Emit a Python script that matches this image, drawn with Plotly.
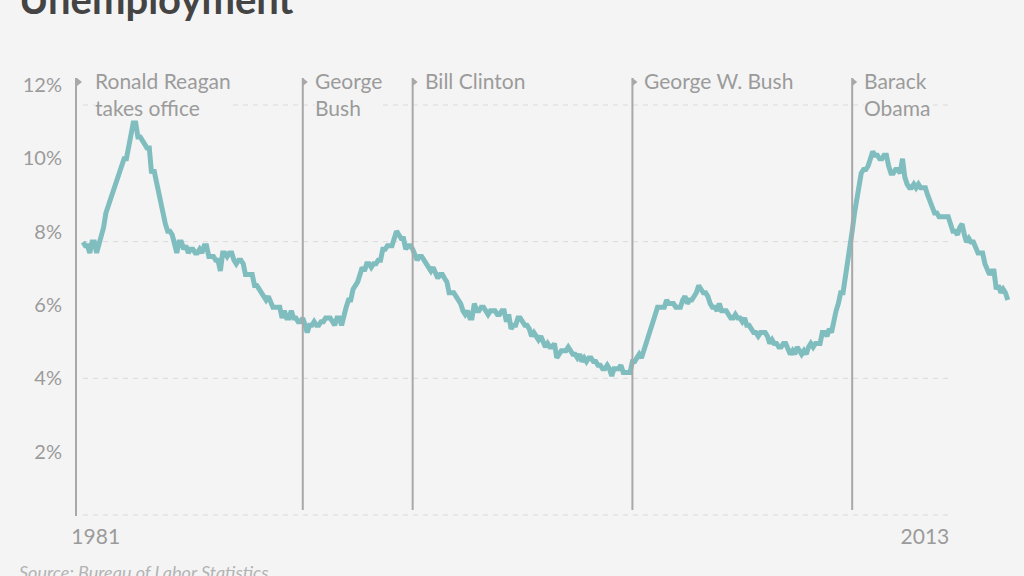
import pandas as pd
import plotly.graph_objects as go

# ---------------- data ----------------
start_month = "1981-01"
# monthly unemployment rate (%), Jan 1981 - Sep 2014, one row per year
unemployment_rate = [
    7.5, 7.4, 7.4, 7.2, 7.5, 7.5, 7.2, 7.4, 7.6, 7.9, 8.3, 8.5,      # 1981
    8.6, 8.9, 9.0, 9.3, 9.4, 9.6, 9.8, 9.8, 10.1, 10.4, 10.8, 10.8,  # 1982
    10.4, 10.4, 10.3, 10.2, 10.1, 10.1, 9.4, 9.5, 9.2, 8.8, 8.5, 8.3, # 1983
    8.0, 7.8, 7.8, 7.7, 7.4, 7.2, 7.5, 7.5, 7.3, 7.4, 7.2, 7.3,      # 1984
    7.3, 7.2, 7.2, 7.3, 7.2, 7.4, 7.4, 7.1, 7.1, 7.1, 7.0, 7.0,      # 1985
    6.7, 7.2, 7.2, 7.1, 7.2, 7.2, 7.0, 6.9, 7.0, 7.0, 6.9, 6.6,      # 1986
    6.6, 6.6, 6.6, 6.3, 6.3, 6.2, 6.1, 6.0, 5.9, 6.0, 5.8, 5.7,      # 1987
    5.7, 5.7, 5.7, 5.4, 5.6, 5.4, 5.4, 5.6, 5.4, 5.4, 5.3, 5.3,      # 1988
    5.4, 5.2, 5.0, 5.2, 5.2, 5.3, 5.2, 5.2, 5.3, 5.3, 5.4, 5.4,      # 1989
    5.4, 5.3, 5.2, 5.4, 5.4, 5.2, 5.5, 5.7, 5.9, 5.9, 6.2, 6.3,      # 1990
    6.4, 6.6, 6.8, 6.7, 6.9, 6.9, 6.8, 6.9, 6.9, 7.0, 7.0, 7.3,      # 1991
    7.3, 7.4, 7.4, 7.4, 7.6, 7.8, 7.7, 7.6, 7.6, 7.3, 7.4, 7.4,      # 1992
    7.3, 7.1, 7.0, 7.1, 7.1, 7.0, 6.9, 6.8, 6.7, 6.8, 6.6, 6.5,      # 1993
    6.6, 6.6, 6.5, 6.4, 6.1, 6.1, 6.1, 6.0, 5.9, 5.8, 5.6, 5.5,      # 1994
    5.6, 5.4, 5.4, 5.8, 5.6, 5.6, 5.7, 5.7, 5.6, 5.5, 5.6, 5.6,      # 1995
    5.6, 5.5, 5.5, 5.6, 5.6, 5.3, 5.5, 5.1, 5.2, 5.2, 5.4, 5.4,      # 1996
    5.3, 5.2, 5.2, 5.1, 4.9, 5.0, 4.9, 4.8, 4.9, 4.7, 4.6, 4.7,      # 1997
    4.6, 4.6, 4.7, 4.3, 4.4, 4.5, 4.5, 4.5, 4.6, 4.5, 4.4, 4.4,      # 1998
    4.3, 4.4, 4.2, 4.3, 4.2, 4.3, 4.3, 4.2, 4.2, 4.1, 4.1, 4.0,      # 1999
    4.0, 4.1, 4.0, 3.8, 4.0, 4.0, 4.0, 4.1, 3.9, 3.9, 3.9, 3.9,      # 2000
    4.2, 4.2, 4.3, 4.4, 4.3, 4.5, 4.6, 4.9, 5.0, 5.3, 5.5, 5.7,      # 2001
    5.7, 5.7, 5.7, 5.9, 5.8, 5.8, 5.8, 5.7, 5.7, 5.7, 5.9, 6.0,      # 2002
    5.8, 5.9, 5.9, 6.0, 6.1, 6.3, 6.2, 6.1, 6.1, 6.0, 5.8, 5.7,      # 2003
    5.7, 5.6, 5.8, 5.6, 5.6, 5.6, 5.5, 5.4, 5.4, 5.5, 5.4, 5.4,      # 2004
    5.3, 5.4, 5.2, 5.2, 5.1, 5.0, 5.0, 4.9, 5.0, 5.0, 5.0, 4.9,      # 2005
    4.7, 4.8, 4.7, 4.7, 4.6, 4.6, 4.7, 4.7, 4.5, 4.4, 4.5, 4.4,      # 2006
    4.6, 4.5, 4.4, 4.5, 4.4, 4.6, 4.7, 4.6, 4.7, 4.7, 4.7, 5.0,      # 2007
    5.0, 4.9, 5.1, 5.0, 5.4, 5.6, 5.8, 6.1, 6.1, 6.5, 6.8, 7.3,      # 2008
    7.8, 8.3, 8.7, 9.0, 9.4, 9.5, 9.5, 9.6, 9.8, 10.0, 9.9, 9.9,     # 2009
    9.8, 9.8, 9.9, 9.9, 9.6, 9.4, 9.4, 9.5, 9.5, 9.4, 9.8, 9.3,      # 2010
    9.1, 9.0, 9.0, 9.1, 9.0, 9.1, 9.0, 9.0, 9.0, 8.8, 8.6, 8.5,      # 2011
    8.3, 8.3, 8.2, 8.2, 8.2, 8.2, 8.2, 8.0, 7.8, 7.8, 7.7, 7.9,      # 2012
    8.0, 7.7, 7.5, 7.6, 7.5, 7.5, 7.3, 7.2, 7.2, 7.2, 6.9, 6.7,      # 2013
    6.6, 6.7, 6.7, 6.2, 6.3, 6.1, 6.2, 6.1, 5.9,                     # 2014
]
months = pd.date_range(start_month, periods=len(unemployment_rate), freq="MS")

president_labels = ["Ronald Reagan<br>takes office", "George<br>Bush", "Bill Clinton",
                    "George W. Bush", "Barack<br>Obama"]
term_starts = ["1981-01-01", "1989-01-01", "1993-01-01", "2001-01-01", "2009-01-01"]

y_tick_values = [2, 4, 6, 8, 10, 12]
y_tick_labels = ["2%", "4%", "6%", "8%", "10%", "12%"]
grid_levels = [0, 4, 8, 12]
x_tick_labels = ["1981", "2013"]
x_tick_dates = ["1981-06-19", "2011-08-26"]

# ---------------- style ----------------
BG = "#f4f4f4"
TEXT = "#9b9b9b"
LINE_GRAY = "#a8a8a8"
TEAL = "#7fbdbf"
FONT = "Lato"

W, H = 1024, 576
ML, MR, MT, MB = 77, 12, 78, 60
plot_w = W - ML - MR
plot_h = H - MT - MB

fig = go.Figure()
# empty traces to register the label axis and the grid axis
fig.add_trace(go.Scatter(x=[], y=[], yaxis="y", showlegend=False, hoverinfo="skip"))
fig.add_trace(go.Scatter(x=[], y=[], yaxis="y3", showlegend=False, hoverinfo="skip"))
fig.add_trace(go.Scatter(
    x=months, y=unemployment_rate, yaxis="y2", mode="lines",
    line=dict(color=TEAL, width=5), showlegend=False,
    hovertemplate="%{x|%b %Y}: %{y:.1f}%<extra></extra>",
))

shapes = []
# dashed gridlines
for lv in grid_levels:
    shapes.append(dict(type="line", xref="paper", yref="y3",
                       x0=6 / plot_w, x1=(950 - ML) / plot_w, y0=lv, y1=lv,
                       line=dict(color="#dadada", width=1, dash="5px,5px"), layer="below"))
# president lines (Reagan uses the y axis line)
for d in term_starts[1:]:
    shapes.append(dict(type="line", xref="x", yref="paper", x0=d, x1=d,
                       y0=6 / plot_h, y1=1, line=dict(color=LINE_GRAY, width=2)))
# flags at the top of each line
flag_path = "M0,0 L5,-4 L0,-8 Z"
shapes.append(dict(type="path", xref="paper", yref="paper", xsizemode="pixel",
                   ysizemode="pixel", xanchor=0, yanchor=1, path=flag_path,
                   fillcolor=LINE_GRAY, line=dict(width=0)))
for d in term_starts[1:]:
    shapes.append(dict(type="path", xref="x", yref="paper", xsizemode="pixel",
                       ysizemode="pixel", xanchor=d, yanchor=1, path=flag_path,
                       fillcolor=LINE_GRAY, line=dict(width=0)))

annotations = []
for lab, d in zip(president_labels, term_starts):
    annotations.append(dict(x=d, y=1, xref="x", yref="paper", text=lab,
                            xanchor="left", yanchor="top", align="left",
                            xshift=11, yshift=11, showarrow=False,
                            bgcolor=BG, borderpad=0,
                            font=dict(family=FONT, size=21, color=TEXT)))
# title (partially cropped at top, as in the reference)
annotations.append(dict(x=(17 - ML) / plot_w, y=1 + (MT + 1) / plot_h, xref="paper", yref="paper",
                        text="Unemployment", xanchor="left", yanchor="middle", showarrow=False,
                        font=dict(family=FONT, size=40, color="#444444", weight="bold")))
# source
annotations.append(dict(x=(17 - ML) / plot_w, y=-(571.5 - (H - MB)) / plot_h, xref="paper", yref="paper",
                        text="<i>Source: Bureau of Labor Statistics</i>", xanchor="left",
                        yanchor="middle", showarrow=False,
                        font=dict(family=FONT, size=18, color="#b3b3b3")))

fig.update_layout(
    width=W, height=H,
    margin=dict(l=ML, r=MR, t=MT, b=MB),
    paper_bgcolor=BG, plot_bgcolor=BG,
    font=dict(family=FONT, color=TEXT),
    xaxis=dict(type="date", range=["1980-10-13", "2014-10-27"], showgrid=False,
               zeroline=False, showline=False, ticks="",
               tickvals=x_tick_dates, ticktext=x_tick_labels,
               tickfont=dict(family=FONT, size=21, color=TEXT), ticklabelstandoff=6),
    yaxis=dict(type="linear", range=[0.258, 12.177], tickmode="array",
               tickvals=y_tick_values, ticktext=y_tick_labels,
               showgrid=False, zeroline=False, showline=True, linecolor=LINE_GRAY,
               linewidth=2, ticks="", ticklabelstandoff=9,
               tickfont=dict(family=FONT, size=20, color=TEXT)),
    yaxis2=dict(overlaying="y", type="linear", range=[-0.066, 12.03], visible=False),
    yaxis3=dict(overlaying="y", type="linear", range=[-0.03, 12.79], visible=False),
    shapes=shapes,
    annotations=annotations,
    showlegend=False,
)

fig.write_html("out.html", config={"displayModeBar": False},
               post_script="document.body.style.margin='0';")
